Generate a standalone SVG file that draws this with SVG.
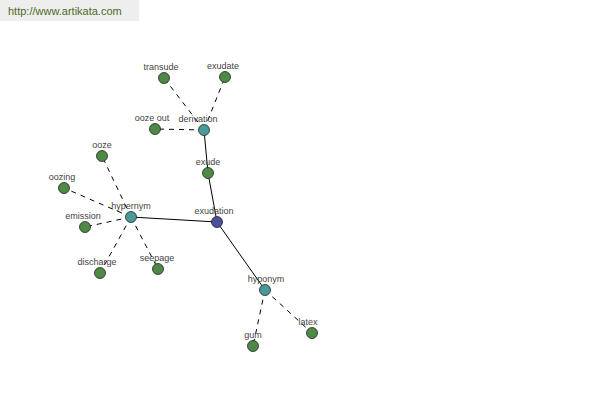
<svg xmlns="http://www.w3.org/2000/svg" width="600" height="400" viewBox="0 0 600 400">
<style>
.lbl{font-family:"Liberation Sans",Arial,sans-serif;font-size:9px;fill:#444;text-anchor:middle}
.n circle{stroke:#222;stroke-width:0.8}
.g{fill:#4e8a45}
.t{fill:#4a9a9a}
.b{fill:#4a4f9e}
.s{stroke:#000;stroke-width:1;fill:none}
.d{stroke:#000;stroke-width:1;fill:none;stroke-dasharray:5,5}
</style>
<rect x="0" y="0" width="139" height="21" fill="#eeeeee"/>
<text x="8" y="15" font-family="Liberation Sans,Arial,sans-serif" font-size="11" fill="#4f6b1f">http://www.artikata.com</text>
<g id="connectors">
<line class="s" x1="217" y1="222" x2="131" y2="217"/>
<line class="s" x1="217" y1="222" x2="208" y2="173"/>
<line class="s" x1="208" y1="173" x2="204" y2="130"/>
<line class="s" x1="217" y1="222" x2="265" y2="290"/>
<line class="d" x1="204" y1="130" x2="164" y2="78"/>
<line class="d" x1="204" y1="130" x2="225" y2="77"/>
<line class="d" x1="204" y1="130" x2="155" y2="129"/>
<line class="d" x1="131" y1="217" x2="102" y2="156"/>
<line class="d" x1="131" y1="217" x2="64" y2="188"/>
<line class="d" x1="131" y1="217" x2="85" y2="227"/>
<line class="d" x1="131" y1="217" x2="100" y2="273"/>
<line class="d" x1="131" y1="217" x2="158" y2="269"/>
<line class="d" x1="265" y1="290" x2="253" y2="346"/>
<line class="d" x1="265" y1="290" x2="312" y2="333"/>
</g>
<g id="exudation" class="n"><circle class="b" cx="217" cy="222" r="5.5"/><text class="lbl" x="214" y="214">exudation</text></g>
<g id="hypernym" class="n"><circle class="t" cx="131" cy="217" r="5.5"/><text class="lbl" x="131" y="209">hypernym</text></g>
<g id="derivation" class="n"><circle class="t" cx="204" cy="130" r="5.5"/><text class="lbl" x="198" y="122">derivation</text></g>
<g id="hyponym" class="n"><circle class="t" cx="265" cy="290" r="5.5"/><text class="lbl" x="266" y="282">hyponym</text></g>
<g id="exude" class="n"><circle class="g" cx="208" cy="173" r="5.5"/><text class="lbl" x="208" y="165">exude</text></g>
<g id="transude" class="n"><circle class="g" cx="164" cy="78" r="5.5"/><text class="lbl" x="161" y="70">transude</text></g>
<g id="exudate" class="n"><circle class="g" cx="225" cy="77" r="5.5"/><text class="lbl" x="223" y="69">exudate</text></g>
<g id="ooze_out" class="n"><circle class="g" cx="155" cy="129" r="5.5"/><text class="lbl" x="152" y="121">ooze out</text></g>
<g id="ooze" class="n"><circle class="g" cx="102" cy="156" r="5.5"/><text class="lbl" x="102" y="148">ooze</text></g>
<g id="oozing" class="n"><circle class="g" cx="64" cy="188" r="5.5"/><text class="lbl" x="62" y="180">oozing</text></g>
<g id="emission" class="n"><circle class="g" cx="85" cy="227" r="5.5"/><text class="lbl" x="83" y="219">emission</text></g>
<g id="discharge" class="n"><circle class="g" cx="100" cy="273" r="5.5"/><text class="lbl" x="97" y="265">discharge</text></g>
<g id="seepage" class="n"><circle class="g" cx="158" cy="269" r="5.5"/><text class="lbl" x="157" y="261">seepage</text></g>
<g id="gum" class="n"><circle class="g" cx="253" cy="346" r="5.5"/><text class="lbl" x="253" y="338">gum</text></g>
<g id="latex" class="n"><circle class="g" cx="312" cy="333" r="5.5"/><text class="lbl" x="308" y="325">latex</text></g>
</svg>
